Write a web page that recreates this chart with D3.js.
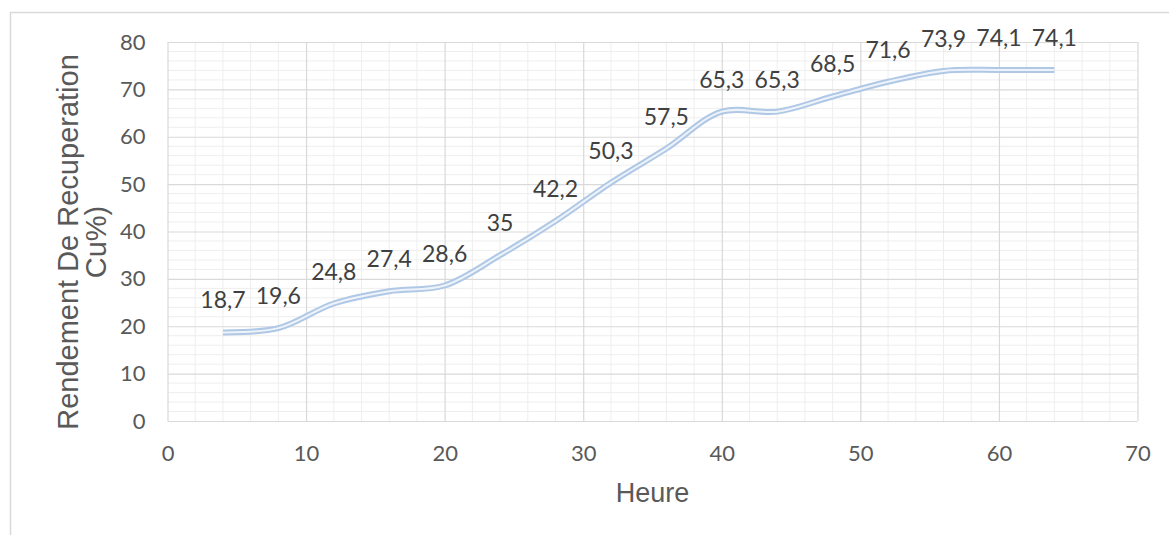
<!DOCTYPE html>
<html><head><meta charset="utf-8">
<script src="https://cdn.jsdelivr.net/npm/d3@7"></script>
<style>body{margin:0;background:#fff}svg{display:block}</style>
</head><body>
<svg id="c" width="1169" height="535"></svg>
<script>
const hours = [4, 8, 12, 16, 20, 24, 28, 32, 36, 40, 44, 48, 52, 56, 60, 64];
const rendement = [18.7, 19.6, 24.8, 27.4, 28.6, 35, 42.2, 50.3, 57.5, 65.3, 65.3, 68.5, 71.6, 73.9, 74.1, 74.1];
const labels = ["18,7","19,6","24,8","27,4","28,6","35","42,2","50,3","57,5","65,3","65,3","68,5","71,6","73,9","74,1","74,1"];
const xTicks = [0, 10, 20, 30, 40, 50, 60, 70];
const yTicks = [0, 10, 20, 30, 40, 50, 60, 70, 80];
const xTitle = "Heure";
const yTitle = ["Rendement De Recuperation", "Cu%)"];

const svg = d3.select("#c");
const x = d3.scaleLinear().domain([0, 70]).range([167.5, 1137.5]);
const y = d3.scaleLinear().domain([0, 80]).range([421, 42]);

// chart border
svg.append("rect").attr("x", 10.5).attr("y", 12.5).attr("width", 1200).attr("height", 600)
  .attr("fill", "none").attr("stroke", "#d9d9d9").attr("stroke-width", 1.5);

// minor grid
const xMinor = d3.range(0, 70.01, 2).filter(v => v % 10 !== 0);
const yMinor = d3.range(0, 80.01, 2).filter(v => v % 10 !== 0);
const g = svg.append("g");
g.selectAll(".xm").data(xMinor).join("line")
  .attr("x1", d => x(d)).attr("x2", d => x(d)).attr("y1", y(0)).attr("y2", y(80))
  .attr("stroke", "#eeeeee").attr("stroke-width", 1);
g.selectAll(".ym").data(yMinor).join("line")
  .attr("y1", d => y(d)).attr("y2", d => y(d)).attr("x1", x(0)).attr("x2", x(70))
  .attr("stroke", "#eeeeee").attr("stroke-width", 1);

// major grid via axes
const xGrid = svg.append("g").attr("transform", `translate(0,${y(0)})`)
  .call(d3.axisBottom(x).tickValues(xTicks).tickSize(-(y(0) - y(80))).tickFormat(""));
const yGrid = svg.append("g").attr("transform", `translate(${x(0)},0)`)
  .call(d3.axisLeft(y).tickValues(yTicks).tickSize(-(x(70) - x(0))).tickFormat(""));
[xGrid, yGrid].forEach(a => {
  a.select(".domain").remove();
  a.selectAll("line").attr("stroke", "#d9d9d9").attr("stroke-width", 1.2);
});

// tick labels
const xAxis = svg.append("g").attr("transform", `translate(0,${y(0)})`)
  .call(d3.axisBottom(x).tickValues(xTicks).tickSize(0).tickPadding(40));
const yAxis = svg.append("g").attr("transform", `translate(${x(0)},0)`)
  .call(d3.axisLeft(y).tickValues(yTicks).tickSize(0).tickPadding(22));
[xAxis, yAxis].forEach(a => {
  a.select(".domain").remove();
  a.selectAll("text").attr("font-family", "Lato, sans-serif").attr("font-size", 22)
    .attr("fill", "#595959");
});
xAxis.selectAll("text").attr("dy", "0").attr("y", 40);

// line
const line = d3.line().x((d, i) => x(hours[i])).y(d => y(d)).curve(d3.curveCatmullRom.alpha(0.5));
svg.append("path").datum(rendement).attr("d", line)
  .attr("fill", "none").attr("stroke", "#afc8e6").attr("stroke-width", 6);
svg.append("path").datum(rendement).attr("d", line)
  .attr("fill", "none").attr("stroke", "#eef3fa").attr("stroke-width", 2);

// data labels
svg.append("g").selectAll("text").data(rendement).join("text")
  .attr("x", (d, i) => x(hours[i])).attr("y", d => y(d) - 24)
  .attr("text-anchor", "middle")
  .attr("font-family", "Lato, sans-serif").attr("font-size", 23).attr("fill", "#404040")
  .text((d, i) => labels[i]);

// titles
svg.append("text").attr("x", (x(0) + x(70)) / 2).attr("y", 502).attr("text-anchor", "middle")
  .attr("font-family", "'Liberation Sans', Arial, sans-serif").attr("font-size", 27).attr("fill", "#595959")
  .text(xTitle);
svg.append("g").selectAll("text").data(yTitle).join("text")
  .attr("transform", (d, i) => `translate(${[78, 106][i]},242) rotate(-90)`)
  .attr("text-anchor", "middle")
  .attr("font-family", "'Liberation Sans', Arial, sans-serif").attr("font-size", 29).attr("fill", "#595959")
  .text(d => d);
</script>
</body></html>
